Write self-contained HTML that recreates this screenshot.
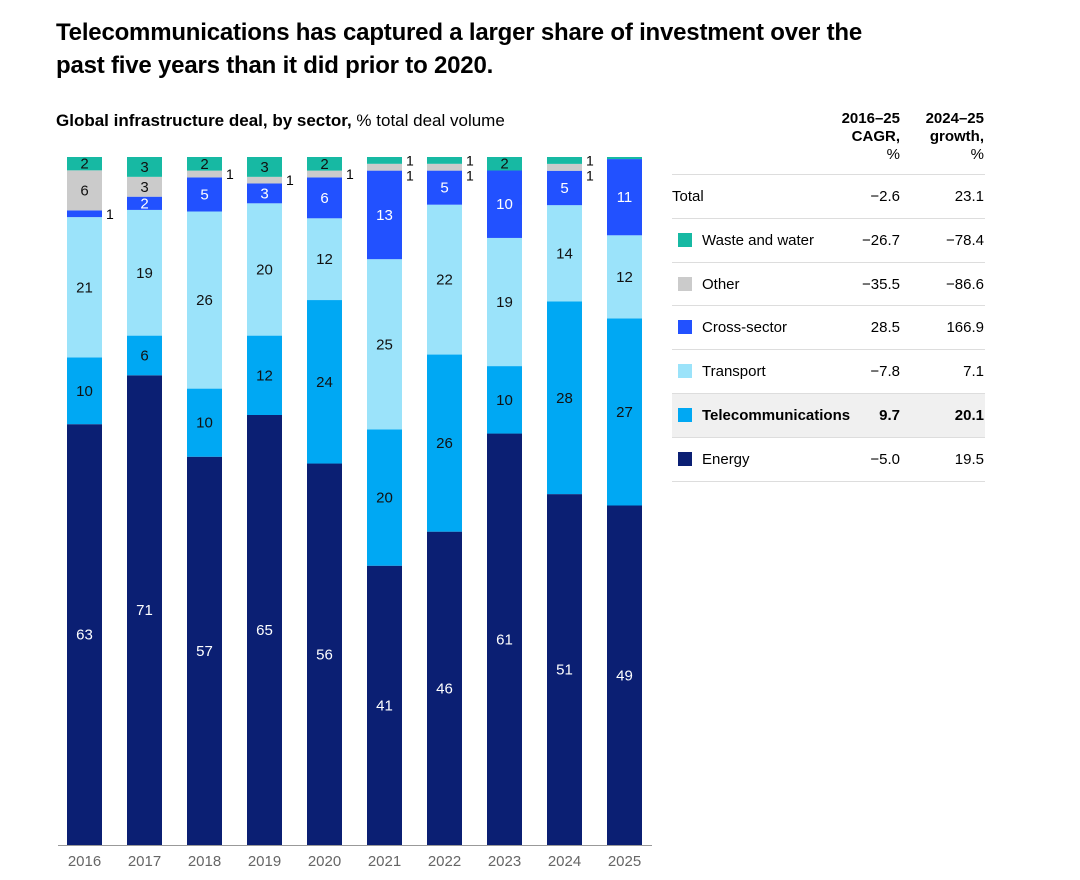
<!DOCTYPE html>
<html><head><meta charset="utf-8">
<style>
body{margin:0;background:#fff;font-family:"Liberation Sans",sans-serif;color:#000;}
#wrap{position:relative;width:1080px;height:880px;overflow:hidden;}
h1{position:absolute;left:56px;top:16px;margin:0;font-size:24px;line-height:33px;font-weight:bold;letter-spacing:-0.2px;width:850px;}
.sub{position:absolute;left:56px;top:111px;font-size:17px;}
.tbl{position:absolute;left:672px;top:110px;width:313px;font-size:15px;}
.hdr{position:absolute;top:0;font-weight:bold;text-align:right;line-height:18px;}
.row{position:absolute;left:0;width:313px;height:43px;border-top:1px solid #ddd;}
.row span{position:absolute;top:13px;}
.sw{display:inline-block;width:14px;height:14px;position:absolute;left:6px;top:14px !important;}
</style></head><body>
<div id="wrap">
<h1>Telecommunications has captured a larger share of investment over the past five years than it did prior to 2020.</h1>
<div class="sub"><b>Global infrastructure deal, by sector,</b> % total deal volume</div>
<svg id="chart" width="660" height="880" style="position:absolute;left:0;top:0"></svg>
<div class="tbl">
 <div class="hdr" style="right:85px">2016–25<br>CAGR,<br><span style="font-weight:normal">%</span></div>
 <div class="hdr" style="right:1px">2024–25<br>growth,<br><span style="font-weight:normal">%</span></div>
 <div id="rows"></div>
</div>
</div>
<script>
const years=["2016","2017","2018","2019","2020","2021","2022","2023","2024","2025"];
const energy=[63,71,57,65,56,41,46,61,51,49];
const telecom=[10,6,10,12,24,20,26,10,28,27];
const transport=[21,19,26,20,12,25,22,19,14,12];
const cross=[1,2,5,3,6,13,5,10,5,11];
const other=[6,3,1,1,1,1,1,0,1,0];
const waste=[2,3,2,3,2,1,1,2,1,0.3];
const seriesNames=["Energy","Telecommunications","Transport","Cross-sector","Other","Waste and water"];
const colors=["#0b1f73","#00a8f3","#9be3fa","#2251ff","#cbcbcb","#17b9a3"];
const textCols=["#fff","#111","#111","#fff","#111","#111"];
const series=[energy,telecom,transport,cross,other,waste];
const NS="http://www.w3.org/2000/svg";
const svg=document.getElementById('chart');
const x0=67,step=60,bw=35,yTop=157,yBot=845;
function mk(t,a){const e=document.createElementNS(NS,t);for(const k in a)e.setAttribute(k,a[k]);svg.appendChild(e);return e;}
const ax=mk('line',{x1:58,x2:652,y1:845.5,y2:845.5,stroke:'#999','stroke-width':1});


years.forEach((yr,i)=>{
  const x=x0+i*step;
  let tot=0;series.forEach(s=>tot+=s[i]);
  const sc=(yBot-yTop)/tot;
  let y=yBot;let outs=[];
  series.forEach((s,k)=>{
    const v=s[i];if(v<=0)return;
    const h=v*sc;y-=h;
    const r=mk('rect',{x:x,y:y,width:bw,height:h,fill:colors[k]});
    
    
    if(v>=2){
      const t=mk('text',{x:x+bw/2,y:y+h/2+5,'text-anchor':'middle','font-size':15,fill:textCols[k]});
      t.textContent=v;
      
      
    } else if(v>=1){outs.push({v:v,y:y+h/2});}
  });
  outs.sort((a,b)=>a.y-b.y);
  let prev=-1e9;
  outs.forEach(o=>{let ly=Math.max(o.y+5,prev+15,yTop+5);prev=ly;
    const t=mk('text',{x:x+bw+4,y:ly,'font-size':14,fill:'#000'});t.textContent=o.v;
    
    });
  const t=mk('text',{x:x+bw/2,y:866,'text-anchor':'middle','font-size':15,fill:'#666'});
  t.textContent=yr;
  
  
});
const rowLabels=["Total","Waste and water","Other","Cross-sector","Transport","Telecommunications","Energy"];
const rowColors=[null,"#17b9a3","#cbcbcb","#2251ff","#9be3fa","#00a8f3","#0b1f73"];
const cagr=["−2.6","−26.7","−35.5","28.5","−7.8","9.7","−5.0"];
const growth=["23.1","−78.4","−86.6","166.9","7.1","20.1","19.5"];
const rows=document.getElementById('rows');
rowLabels.forEach((l,i)=>{
  const d=document.createElement('div');d.className='row';d.style.top=(64+i*43.8)+'px';
  if(i==6)d.style.borderBottom='1px solid #ddd';
  const bold=l==="Telecommunications";
  if(bold){d.style.background='#f0f0f0';d.style.fontWeight='bold';}
  
  
  let h='';
  if(rowColors[i])h+='<span class="sw" style="background:'+rowColors[i]+'"></span>';
  h+='<span style="left:'+(rowColors[i]?30:0)+'px">'+l+'</span>';
  h+='<span style="right:85px">'+cagr[i]+'</span><span style="right:1px">'+growth[i]+'</span>';
  d.innerHTML=h;rows.appendChild(d);
});
</script>
</body></html>
